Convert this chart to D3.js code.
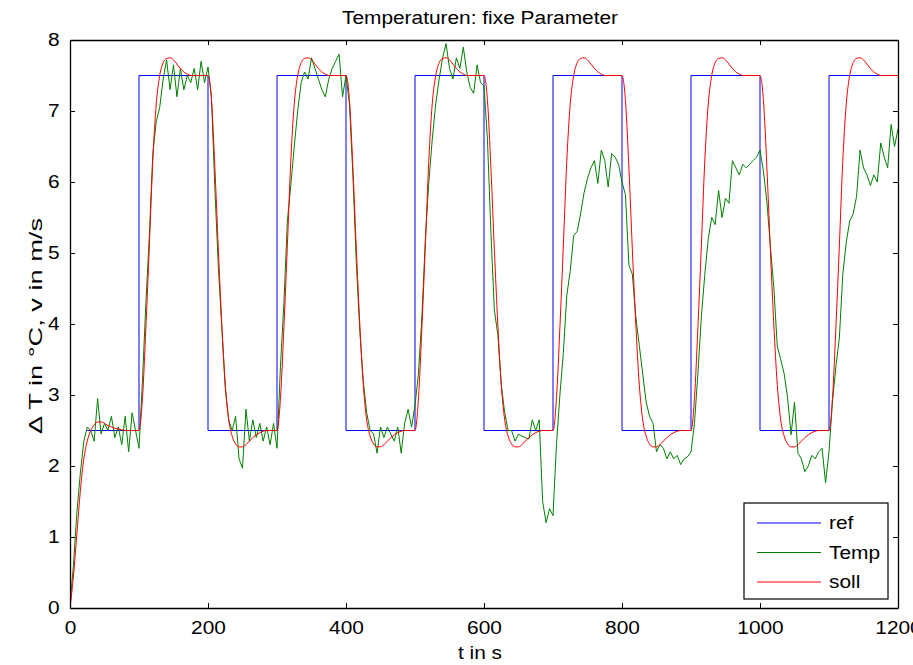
<!DOCTYPE html>
<html>
<head>
<meta charset="utf-8">
<script src="https://cdn.jsdelivr.net/npm/d3@7"></script>
<style>
  html, body { margin: 0; padding: 0; background: #fff; }
  svg { display: block; }
  text { font-family: "Liberation Sans", Arial, Helvetica, sans-serif; fill: #000; }
</style>
</head>
<body>
<svg id="chart" width="913" height="665"></svg>
<script>
// ---------------- data ----------------
const titleText = "Temperaturen: fixe Parameter";
const xLabel = "t in s";
const yLabel = "\u0394 T in \u00B0C, v in m/s";
const seriesNames = ["ref", "Temp", "soll"];
const seriesColors = ["#0000ff", "#008000", "#ff0000"];

const xTicks = [0, 200, 400, 600, 800, 1000, 1200];
const yTicks = [0, 1, 2, 3, 4, 5, 6, 7, 8];

// sample times (s), 5 s sampling
const time = d3.range(0, 1201, 5);

// reference step signal (breakpoints)
const refTime = [25, 100, 200, 300, 400, 500, 600, 700, 800, 900, 1000, 1100, 1200];
const refValue = [2.5, 7.5, 2.5, 7.5, 2.5, 7.5, 2.5, 7.5, 2.5, 7.5, 2.5, 7.5, 7.5];

// measured temperature
const temp = [
  0.05, 0.6, 1.35, 1.9, 2.35, 2.55, 2.5, 2.35, 2.95, 2.45, 2.6, 2.5, 2.7, 2.4, 2.55, 2.3, 2.7, 2.2, 2.75, 2.5,
  2.25, 3.2, 4.3, 5.25, 6.4, 6.85, 7.05, 7.45, 7.72, 7.3, 7.65, 7.2, 7.6, 7.3, 7.5, 7.4, 7.6, 7.3, 7.7, 7.4,
  7.62, 7.2, 5.9, 4.8, 3.95, 3.1, 2.65, 2.5, 2.7, 2.1, 1.97, 2.8, 2.35, 2.65, 2.4, 2.6, 2.35, 2.55, 2.3, 2.6,
  2.25, 3.4, 4.3, 5.45, 5.95, 6.5, 7.0, 7.4, 7.55, 7.45, 7.75, 7.6, 7.45, 7.3, 7.2, 7.45, 7.6, 7.7, 7.8, 7.2,
  7.5, 7.1, 6.1, 4.85, 3.9, 3.2, 2.75, 2.5, 2.45, 2.18, 2.55, 2.4, 2.55, 2.45, 2.35, 2.55, 2.18, 2.6, 2.8, 2.55,
  2.85, 3.3, 4.1, 5.2, 6.0, 6.6, 7.1, 7.45, 7.75, 7.95, 7.6, 7.45, 7.75, 7.6, 7.9, 7.55, 7.33, 7.25, 7.65, 7.4,
  7.35, 6.6, 5.3, 4.2, 3.85, 3.15, 2.75, 2.5, 2.5, 2.35, 2.45, 2.42, 2.4, 2.38, 2.65, 2.5, 2.65, 1.5, 1.2, 1.4,
  1.3, 2.3, 3.0, 3.6, 4.4, 4.75, 5.25, 5.3, 5.55, 5.85, 6.05, 6.2, 6.3, 5.98, 6.45, 6.3, 5.93, 6.4, 6.35, 6.25,
  6.0, 5.82, 4.83, 4.7, 4.1, 3.7, 3.3, 2.9, 2.7, 2.6, 2.2, 2.3, 2.25, 2.1, 2.2, 2.1, 2.15, 2.02, 2.1, 2.13,
  2.2, 2.6, 3.3, 4.1, 4.7, 5.2, 5.5, 5.4, 5.88, 5.5, 5.77, 5.7, 6.3, 6.2, 6.1, 6.25, 6.2, 6.25, 6.3, 6.35,
  6.45, 6.15, 5.72, 5.1, 4.52, 3.69, 3.5, 3.3, 2.96, 2.44, 2.9, 2.18, 2.1, 1.92, 2.0, 2.15, 2.1, 2.2, 2.25, 1.76,
  2.2, 2.9, 3.4, 3.8, 4.7, 5.15, 5.45, 5.55, 5.8, 6.45, 6.2, 6.1, 5.95, 6.1, 6.0, 6.55, 6.35, 6.2, 6.81, 6.5,
  6.75
];

// desired (soll) trajectory
const soll = [
  0, 0.45, 1.05, 1.65, 2.1, 2.35, 2.5, 2.58, 2.62, 2.62, 2.6, 2.57, 2.55, 2.53, 2.52, 2.51, 2.5, 2.5, 2.5, 2.5,
  2.5, 2.95, 3.95, 5.1, 6.3, 7.1, 7.5, 7.68, 7.74, 7.75, 7.72, 7.66, 7.6, 7.55, 7.52, 7.5, 7.5, 7.5, 7.5, 7.5,
  7.5, 7.15, 6.2, 5.05, 4.0, 3.15, 2.65, 2.42, 2.31, 2.27, 2.27, 2.3, 2.35, 2.4, 2.44, 2.47, 2.49, 2.5, 2.5, 2.5,
  2.5, 2.95, 3.95, 5.1, 6.3, 7.1, 7.5, 7.68, 7.74, 7.75, 7.72, 7.66, 7.6, 7.55, 7.52, 7.5, 7.5, 7.5, 7.5, 7.5,
  7.5, 7.15, 6.2, 5.05, 4.0, 3.15, 2.65, 2.42, 2.31, 2.27, 2.27, 2.3, 2.35, 2.4, 2.44, 2.47, 2.49, 2.5, 2.5, 2.5,
  2.5, 2.95, 3.95, 5.1, 6.3, 7.1, 7.5, 7.68, 7.74, 7.75, 7.72, 7.66, 7.6, 7.55, 7.52, 7.5, 7.5, 7.5, 7.5, 7.5,
  7.5, 7.15, 6.2, 5.05, 4.0, 3.15, 2.65, 2.42, 2.31, 2.27, 2.27, 2.3, 2.35, 2.4, 2.44, 2.47, 2.49, 2.5, 2.5, 2.5,
  2.5, 2.95, 3.95, 5.1, 6.3, 7.1, 7.5, 7.68, 7.74, 7.75, 7.72, 7.66, 7.6, 7.55, 7.52, 7.5, 7.5, 7.5, 7.5, 7.5,
  7.5, 7.15, 6.2, 5.05, 4.0, 3.15, 2.65, 2.42, 2.31, 2.27, 2.27, 2.3, 2.35, 2.4, 2.44, 2.47, 2.49, 2.5, 2.5, 2.5,
  2.5, 2.95, 3.95, 5.1, 6.3, 7.1, 7.5, 7.68, 7.74, 7.75, 7.72, 7.66, 7.6, 7.55, 7.52, 7.5, 7.5, 7.5, 7.5, 7.5,
  7.5, 7.15, 6.2, 5.05, 4.0, 3.15, 2.65, 2.42, 2.31, 2.27, 2.27, 2.3, 2.35, 2.4, 2.44, 2.47, 2.49, 2.5, 2.5, 2.5,
  2.5, 2.95, 3.95, 5.1, 6.3, 7.1, 7.5, 7.68, 7.74, 7.75, 7.72, 7.66, 7.6, 7.55, 7.52, 7.5, 7.5, 7.5, 7.5, 7.5,
  7.5
];

// ---------------- layout ----------------
const plot = { left: 70, right: 898, top: 40, bottom: 608 };
const FONT = 18;
const SX = 1.16; // horizontal stretch of the reference's text

const svg = d3.select("#chart");

const x = d3.scaleLinear().domain([0, 1200]).range([plot.left, plot.right]);
const y = d3.scaleLinear().domain([0, 8]).range([plot.bottom, plot.top]);

svg.append("defs").append("clipPath").attr("id", "clip")
  .append("rect")
  .attr("x", plot.left).attr("y", plot.top)
  .attr("width", plot.right - plot.left).attr("height", plot.bottom - plot.top);

const g = svg.append("g").attr("clip-path", "url(#clip)");

// ref
const refData = refTime.map((t, i) => [t, refValue[i]]);
g.append("path")
  .datum(refData)
  .attr("fill", "none")
  .attr("stroke", seriesColors[0])
  .attr("stroke-width", 1)
  .attr("d", d3.line().x(d => x(d[0])).y(d => y(d[1])).curve(d3.curveStepAfter));

// Temp
g.append("path")
  .datum(time.map((t, i) => [t, temp[i]]))
  .attr("fill", "none")
  .attr("stroke", seriesColors[1])
  .attr("stroke-width", 1)
  .attr("stroke-linejoin", "round")
  .attr("d", d3.line().x(d => x(d[0])).y(d => y(d[1])));

// soll
g.append("path")
  .datum(time.map((t, i) => [t, soll[i]]))
  .attr("fill", "none")
  .attr("stroke", seriesColors[2])
  .attr("stroke-width", 1)
  .attr("stroke-linejoin", "round")
  .attr("d", d3.line().x(d => x(d[0])).y(d => y(d[1])).curve(d3.curveMonotoneX));

// ---------------- axes ----------------
const tickLen = 5;
const axBottom = svg.append("g").attr("transform", `translate(0,${plot.bottom})`)
  .call(d3.axisBottom(x).tickValues(xTicks).tickSizeInner(-tickLen).tickSizeOuter(0).tickPadding(13).tickFormat(d3.format("d")));
const axTop = svg.append("g").attr("transform", `translate(0,${plot.top})`)
  .call(d3.axisTop(x).tickValues(xTicks).tickSizeInner(-tickLen).tickSizeOuter(0).tickFormat(""));
const axLeft = svg.append("g").attr("transform", `translate(${plot.left},0)`)
  .call(d3.axisLeft(y).tickValues(yTicks).tickSizeInner(-tickLen).tickSizeOuter(0).tickPadding(9).tickFormat(d3.format("d")));
const axRight = svg.append("g").attr("transform", `translate(${plot.right},0)`)
  .call(d3.axisRight(y).tickValues(yTicks).tickSizeInner(-tickLen).tickSizeOuter(0).tickFormat(""));

[axBottom, axTop, axLeft, axRight].forEach(a => {
  a.select(".domain").attr("stroke", "#000").attr("stroke-width", 1.3);
  a.selectAll(".tick line").attr("stroke", "#000").attr("stroke-width", 1);
  a.selectAll("text").style("font-size", FONT + "px").attr("fill", "#000")
    .style("font-family", '"Liberation Sans", Arial, sans-serif')
    .attr("transform", `scale(${SX},1)`);
});

// title and axis labels
svg.append("text")
  .attr("transform", `translate(${(plot.left + plot.right) / 2 - 4},24) scale(${SX},1)`)
  .attr("text-anchor", "middle")
  .style("font-size", FONT + "px")
  .text(titleText);

svg.append("text")
  .attr("transform", `translate(${(plot.left + plot.right) / 2 - 4},659) scale(${SX},1)`)
  .attr("text-anchor", "middle")
  .style("font-size", FONT + "px")
  .text(xLabel);

svg.append("text")
  .attr("transform", `translate(42,${(plot.top + plot.bottom) / 2 + 2}) rotate(-90)`)
  .attr("text-anchor", "middle")
  .attr("textLength", 216)
  .attr("lengthAdjust", "spacingAndGlyphs")
  .style("font-size", FONT + "px")
  .text(yLabel);

// ---------------- legend ----------------
const leg = svg.append("g");
const legBox = { x: 744, y: 503, w: 144, h: 96 };
leg.append("rect")
  .attr("x", legBox.x).attr("y", legBox.y)
  .attr("width", legBox.w).attr("height", legBox.h)
  .attr("fill", "#fff").attr("stroke", "#000").attr("stroke-width", 1.2);

seriesNames.forEach((name, i) => {
  const cy = legBox.y + 20 + i * 29.5;
  leg.append("line")
    .attr("x1", legBox.x + 13).attr("x2", legBox.x + 77)
    .attr("y1", cy).attr("y2", cy)
    .attr("stroke", seriesColors[i]).attr("stroke-width", 1);
  leg.append("text")
    .attr("transform", `translate(${legBox.x + 85},${cy}) scale(${SX},1)`)
    .attr("dy", "0.35em")
    .style("font-size", FONT + "px")
    .text(name);
});
</script>
</body>
</html>
